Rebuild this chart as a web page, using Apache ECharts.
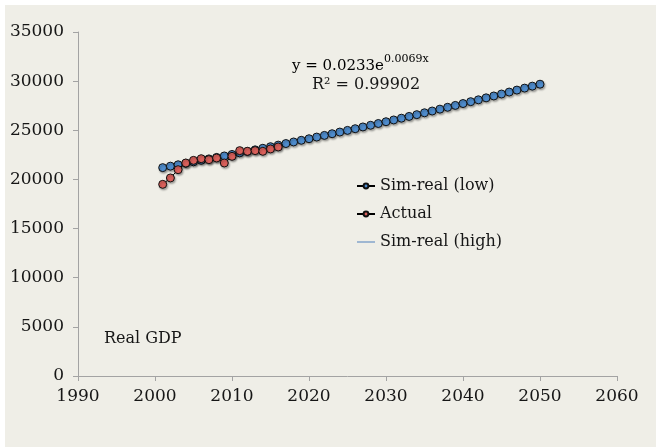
<!DOCTYPE html>
<html>
<head>
<meta charset="utf-8">
<script src="https://cdn.jsdelivr.net/npm/echarts@6/dist/echarts.min.js"></script>
<style>
  html, body { margin: 0; padding: 0; background: #ffffff; }
  #chart { width: 656px; height: 447px; }
</style>
</head>
<body>
<div id="chart"></div>
<script>
// Simulated real GDP path (low scenario), 2001-2050
const simYears = [2001, 2002, 2003, 2004, 2005, 2006, 2007, 2008, 2009, 2010,
  2011, 2012, 2013, 2014, 2015, 2016, 2017, 2018, 2019, 2020,
  2021, 2022, 2023, 2024, 2025, 2026, 2027, 2028, 2029, 2030,
  2031, 2032, 2033, 2034, 2035, 2036, 2037, 2038, 2039, 2040,
  2041, 2042, 2043, 2044, 2045, 2046, 2047, 2048, 2049, 2050];
const simLow = [21200, 21350, 21490, 21640, 21790, 21940, 22090, 22240, 22390, 22540,
  22700, 22850, 23010, 23170, 23330, 23490, 23650, 23810, 23980, 24140,
  24310, 24480, 24650, 24820, 24990, 25160, 25340, 25510, 25690, 25870,
  26050, 26230, 26410, 26590, 26780, 26960, 27150, 27340, 27530, 27720,
  27910, 28100, 28300, 28490, 28690, 28890, 29090, 29290, 29490, 29690];
// High scenario runs on top of the low one at this scale
const simHigh = simLow.slice();

// Observed real GDP
const actualYears = [2001, 2002, 2003, 2004, 2005, 2006, 2007, 2008,
  2009, 2010, 2011, 2012, 2013, 2014, 2015, 2016];
const actualVals = [19500, 20150, 20990, 21670, 21940, 22110, 22010, 22180,
  21670, 22350, 22930, 22860, 22930, 22860, 23100, 23300];

const xTicks = { min: 1990, max: 2060, step: 10 };
const yTicks = { min: 0, max: 35000, step: 5000 };

const pairs = (xs, ys) => xs.map((x, i) => [x, ys[i]]);

const FONT = 'DejaVu Serif';
const INK = '#161616';
const AXIS = '#a3a3a3';

const markerShadow = {
  shadowColor: 'rgba(0,0,0,0.3)',
  shadowBlur: 2,
  shadowOffsetX: 1,
  shadowOffsetY: 1.5
};

const chart = echarts.init(document.getElementById('chart'), null, { renderer: 'canvas' });

chart.setOption({
  backgroundColor: '#ffffff',
  animation: false,
  textStyle: { fontFamily: FONT, color: INK },
  grid: { left: 78, right: 39, top: 32, bottom: 71, containLabel: false },
  xAxis: {
    type: 'value',
    min: xTicks.min, max: xTicks.max, interval: xTicks.step,
    axisLine: { lineStyle: { color: AXIS, width: 1 } },
    axisTick: { show: true, length: 5, lineStyle: { color: AXIS } },
    axisLabel: { fontFamily: FONT, fontSize: 17, color: INK, margin: 12,
      formatter: v => String(v) },
    splitLine: { show: false }
  },
  yAxis: {
    type: 'value',
    min: yTicks.min, max: yTicks.max, interval: yTicks.step,
    axisLine: { show: true, lineStyle: { color: AXIS, width: 1 } },
    axisTick: { show: true, length: 5, lineStyle: { color: AXIS } },
    axisLabel: { fontFamily: FONT, fontSize: 17, color: INK, margin: 14,
      formatter: v => String(v) },
    splitLine: { show: false }
  },
  legend: {
    orient: 'vertical',
    left: 351,
    top: 171,
    itemWidth: 18,
    itemHeight: 6,
    itemGap: 8,
    textStyle: { fontFamily: FONT, fontSize: 16, color: INK, lineHeight: 20 },
    data: [
      'Sim-real (low)',
      'Actual',
      { name: 'Sim-real (high)', icon: 'path://M0,0L18,0L18,1L0,1Z' }
    ]
  },
  graphic: [
    {
      type: 'rect', silent: true, z: -10,
      shape: { x: 5, y: 5, width: 651, height: 442 },
      style: { fill: '#efeee7' }
    },
    {
      type: 'text', silent: true, left: 292, top: 54,
      style: {
        text: '{a|y = 0.0233e}{b|0.0069x}',
        rich: {
          a: { fontFamily: FONT, fontSize: 15, color: INK, lineHeight: 20, verticalAlign: 'bottom' },
          b: { fontFamily: FONT, fontSize: 11, color: INK, lineHeight: 20, verticalAlign: 'top', padding: [0, 0, 6, 0] }
        }
      }
    },
    {
      type: 'text', silent: true, left: 312, top: 77,
      style: { text: 'R² = 0.99902', font: '16px "DejaVu Serif"', fill: INK }
    },
    {
      type: 'text', silent: true, left: 104, top: 331,
      style: { text: 'Real GDP', font: '16px "DejaVu Serif"', fill: INK }
    }
  ],
  series: [
    {
      name: 'Sim-real (high)',
      type: 'line',
      z: 1,
      data: pairs(simYears, simHigh),
      symbol: 'none',
      lineStyle: { color: '#4f81bd', width: 1 },
      itemStyle: { color: '#4f81bd' }
    },
    {
      name: 'Sim-real (low)',
      type: 'line',
      z: 2,
      data: pairs(simYears, simLow),
      symbol: 'circle',
      symbolSize: 8,
      showAllSymbol: true,
      lineStyle: { color: '#000000', width: 1.5 },
      itemStyle: Object.assign({ color: '#4f8ccc', borderColor: '#111111', borderWidth: 1 }, markerShadow)
    },
    {
      name: 'Actual',
      type: 'line',
      z: 3,
      data: pairs(actualYears, actualVals),
      symbol: 'circle',
      symbolSize: 8,
      showAllSymbol: true,
      lineStyle: { color: '#000000', width: 1 },
      itemStyle: Object.assign({ color: '#d9605b', borderColor: '#111111', borderWidth: 1 }, markerShadow)
    }
  ]
});
</script>
</body>
</html>
